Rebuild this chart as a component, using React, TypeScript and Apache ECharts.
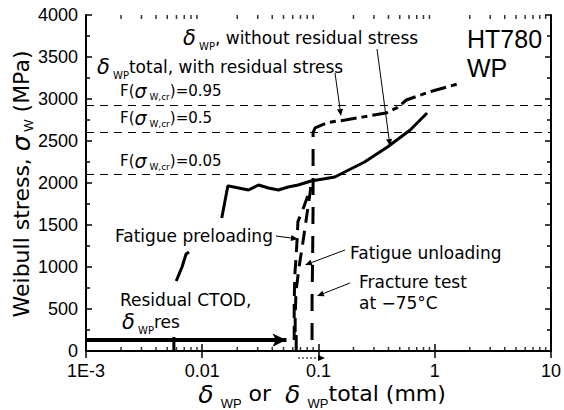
import React, { useEffect, useRef } from "react";
import * as echarts from "echarts";

// ---- Data ----
const xTickLabels = ["1E-3", "0.01", "0.1", "1", "10"];
const decades = [0.001, 0.01, 0.1, 1];
const minorMultipliers = [2, 3, 4, 5, 6, 7, 8, 9];

// delta_WP without residual stress (solid)
const solidLow = [
  [0.00597, 833],
  [0.0067, 1000],
  [0.00726, 1155],
  [0.0077, 1179],
];
const solidMain = [
  [0.01472, 1583],
  [0.0166, 1964],
  [0.0169, 1964],
  [0.025, 1917],
  [0.0305, 1976],
  [0.0371, 1940],
  [0.0452, 1917],
  [0.0549, 1952],
  [0.0668, 1976],
  [0.0863, 2024],
  [0.1383, 2071],
  [0.168, 2131],
  [0.249, 2250],
  [0.392, 2429],
  [0.615, 2631],
  [0.859, 2833],
];
// Fatigue preloading (dashed)
const preload = [
  [0.0618, 130],
  [0.0618, 580],
  [0.0625, 900],
  [0.064, 1100],
  [0.0656, 1345],
  [0.0665, 1540],
  [0.075, 1720],
  [0.086, 1950],
];
// Fatigue unloading (dashed)
const unload = [
  [0.086, 1950],
  [0.08, 1650],
  [0.0723, 1230],
  [0.068, 1000],
  [0.064, 700],
  [0.063, 400],
  [0.063, 130],
];
// Fracture test at -75C (dashed rise)
const fractureRise = [
  [0.088, 130],
  [0.088, 600],
  [0.089, 1100],
  [0.0898, 1700],
  [0.0898, 2600],
];
// delta_WP total with residual stress (dash-dot)
const totalCurve = [
  [0.0898, 2600],
  [0.0934, 2655],
  [0.12, 2720],
  [0.17, 2750],
  [0.25, 2790],
  [0.38, 2833],
  [0.48, 2900],
  [0.57, 2988],
  [0.89, 3083],
  [1.68, 3190],
];
// residual CTOD marks
const residualTickA = [
  [0.0057, 0],
  [0.0057, 167],
];
const residualTickB = [
  [0.0643, 0],
  [0.0643, 190],
];
const residualArrow = { from: 0.001, to: 0.053, stress: 130 };
// Weibull stress levels F(sigma_W,cr)
const fLevels = [2920, 2600, 2100];

const FONT = "DejaVu Sans";
const NUMFONT = "Liberation Sans";

function arrow(x1: number, y1: number, x2: number, y2: number, dotted = false) {
  const ang = Math.atan2(y2 - y1, x2 - x1);
  const L = 7,
    W = 3;
  const bx = x2 - L * Math.cos(ang);
  const by = y2 - L * Math.sin(ang);
  const px = -Math.sin(ang) * W;
  const py = Math.cos(ang) * W;
  return [
    {
      type: "line",
      shape: { x1, y1, x2: bx, y2: by },
      style: { stroke: "#000", lineWidth: 1, lineDash: dotted ? [2, 2] : null },
      silent: true,
    },
    {
      type: "polygon",
      shape: {
        points: [
          [x2, y2],
          [bx + px, by + py],
          [bx - px, by - py],
        ],
      },
      style: { fill: "#000" },
      silent: true,
    },
  ];
}

const richBase = (size: number, drop: number) => ({
  n: { fontFamily: FONT, fontSize: size, lineHeight: 2 * drop + 8, fill: "#000", verticalAlign: "middle" },
  g: {
    fontFamily: FONT,
    fontStyle: "italic",
    fontSize: size + 4,
    lineHeight: 2 * drop + 8,
    fill: "#000",
    verticalAlign: "middle",
  },
  s: { fontFamily: FONT, fontSize: Math.round(size * 0.6), lineHeight: 8, fill: "#000", verticalAlign: "bottom" },
});

function label(x: number, y: number, text: string, size = 17, drop = 9) {
  return {
    type: "text",
    x,
    y,
    silent: true,
    style: {
      text,
      rich: richBase(size, drop),
      font: `${size}px "${FONT}"`,
      fill: "#000",
      align: "left",
      verticalAlign: "middle",
    },
  };
}

export default function App() {
  const ref = useRef<HTMLDivElement>(null);
  useEffect(() => {
    if (!ref.current) return;
    const chart = echarts.init(ref.current, undefined, { renderer: "svg" });

    const minorX: number[][] = [];
    decades.forEach((d) => minorMultipliers.forEach((m) => minorX.push([d * m, 0])));
    const minorXTop = minorX.map((p) => [p[0], 4000]);

    const axisLine = { show: true, lineStyle: { color: "#000", width: 2 } };
    const dashedLine = (data: number[][], dash: number[]) => ({
      type: "line",
      data,
      symbol: "none",
      lineStyle: { color: "#000", width: 3, type: dash },
      silent: true,
      z: 3,
    });

    const yNameRich = {
      n: { fontFamily: FONT, fontSize: 22, lineHeight: 28, fill: "#000", verticalAlign: "middle" },
      g: { fontFamily: FONT, fontStyle: "italic", fontSize: 25, lineHeight: 28, fill: "#000", verticalAlign: "middle" },
      s: { fontFamily: NUMFONT, fontSize: 13, lineHeight: 8, fill: "#000", verticalAlign: "bottom" },
    };
    const xNameRich = {
      n: { fontFamily: FONT, fontSize: 22, lineHeight: 20, fill: "#000", verticalAlign: "top" },
      g: { fontFamily: FONT, fontStyle: "italic", fontSize: 25, lineHeight: 20, fill: "#000", verticalAlign: "top" },
      s: {
        fontFamily: NUMFONT,
        fontSize: 13,
        lineHeight: 10,
        padding: [15, 0, 0, 0],
        fill: "#000",
        verticalAlign: "top",
      },
    };

    const graphic: any[] = [
      // annotations
      label(183, 38, "{g|δ}{s| WP}{n|, without residual stress}"),
      label(97, 67, "{g|δ}{s| WP}{n|total, with residual stress}"),
      {
        type: "text",
        x: 467,
        y: 39,
        silent: true,
        style: { text: "HT780", font: `25px "${NUMFONT}"`, fill: "#000", verticalAlign: "middle" },
      },
      {
        type: "text",
        x: 467,
        y: 68,
        silent: true,
        style: { text: "WP", font: `25px "${NUMFONT}"`, fill: "#000", verticalAlign: "middle" },
      },
      label(120, 91, "{n|F(}{g|σ}{s| W,cr}{n|)=0.95}", 15, 6),
      label(120, 118, "{n|F(}{g|σ}{s| W,cr}{n|)=0.5}", 15, 6),
      label(120, 161, "{n|F(}{g|σ}{s| W,cr}{n|)=0.05}", 15, 6),
      label(115, 236, "{n|Fatigue preloading}"),
      label(350, 253, "{n|Fatigue unloading}"),
      label(359, 282, "{n|Fracture test}"),
      label(359, 303, "{n|at −75°C}"),
      label(120, 300, "{n|Residual CTOD,}"),
      label(122, 322, "{g|δ}{s| WP}{n|res}"),
      ...arrow(335, 73, 341, 116),
      ...arrow(377, 49, 390, 146),
      ...arrow(276, 236, 298, 239),
      ...arrow(345, 250, 305, 265),
      ...arrow(350, 283, 317, 296),
      ...arrow(298, 358, 325, 358, true),
      // axis names
      {
        type: "text",
        x: 21,
        y: 184,
        rotation: Math.PI / 2,
        silent: true,
        style: {
          text: "{n|Weibull stress, }{g|σ}{s| W}{n| (MPa)}",
          rich: yNameRich,
          align: "center",
          verticalAlign: "middle",
        },
      },
      {
        type: "text",
        x: 322,
        y: 382,
        silent: true,
        style: {
          text: "{g|δ}{s|  WP}{n| or  }{g|δ}{s|  WP}{n|total (mm)}",
          rich: xNameRich,
          align: "center",
          verticalAlign: "top",
        },
      },
    ];

    chart.setOption({
      animation: false,
      backgroundColor: "#fff",
      grid: { left: 86, right: 9, top: 15, bottom: 59, containLabel: false },
      xAxis: [
        {
          type: "log",
          logBase: 10,
          min: 0.001,
          max: 10,
          axisLine,
          axisTick: { show: true, inside: true, length: 7, lineStyle: { color: "#000", width: 1.5 } },
          axisLabel: {
            color: "#000",
            fontFamily: NUMFONT,
            fontSize: 18,
            margin: 11,
            formatter: (_v: number, i: number) => xTickLabels[i] ?? "",
          },
          splitLine: { show: false },
        },
        {
          type: "log",
          logBase: 10,
          min: 0.001,
          max: 10,
          position: "top",
          axisLine,
          axisTick: { show: true, inside: true, length: 7, lineStyle: { color: "#000", width: 1.5 } },
          axisLabel: { show: false },
          splitLine: { show: false },
        },
      ],
      yAxis: [
        {
          type: "value",
          min: 0,
          max: 4000,
          interval: 500,
          axisLine,
          axisTick: { show: true, inside: true, length: 6, lineStyle: { color: "#000", width: 1.5 } },
          minorTick: { show: true, splitNumber: 2, length: 4, lineStyle: { color: "#000", width: 1.5 } },
          axisLabel: {
            color: "#000",
            fontFamily: NUMFONT,
            fontSize: 18,
            margin: 8,
            formatter: (v: number) => String(v),
          },
          splitLine: { show: false },
        },
        {
          type: "value",
          min: 0,
          max: 4000,
          interval: 500,
          position: "right",
          axisLine,
          axisTick: { show: true, inside: true, length: 6, lineStyle: { color: "#000", width: 1.5 } },
          minorTick: { show: true, splitNumber: 2, length: 4, lineStyle: { color: "#000", width: 1.5 } },
          axisLabel: { show: false },
          splitLine: { show: false },
        },
      ],
      series: [
        {
          type: "line",
          data: [],
          silent: true,
          markLine: {
            silent: true,
            symbol: "none",
            label: { show: false },
            lineStyle: { color: "#000", width: 1, type: [8, 6] },
            data: fLevels.map((v) => ({ yAxis: v })),
          },
        },
        {
          type: "line",
          data: solidLow,
          symbol: "none",
          lineStyle: { color: "#000", width: 3 },
          silent: true,
        },
        {
          type: "line",
          data: solidMain,
          symbol: "none",
          lineStyle: { color: "#000", width: 3 },
          silent: true,
        },
        dashedLine(preload, [14, 8]),
        dashedLine(unload, [14, 8]),
        dashedLine(fractureRise, [17, 12]),
        dashedLine(totalCurve, [16, 5, 6, 5]),
        {
          type: "line",
          data: residualTickA,
          symbol: "none",
          lineStyle: { color: "#000", width: 3 },
          silent: true,
        },
        {
          type: "line",
          data: residualTickB,
          symbol: "none",
          lineStyle: { color: "#000", width: 3 },
          silent: true,
          markLine: {
            silent: true,
            symbol: ["none", "arrow"],
            symbolSize: [10, 14],
            label: { show: false },
            lineStyle: { color: "#000", width: 4, type: "solid" },
            data: [
              [
                { coord: [residualArrow.from, residualArrow.stress] },
                { coord: [residualArrow.to, residualArrow.stress] },
              ],
            ],
          },
        },
        {
          type: "scatter",
          data: minorX,
          symbol: "rect",
          symbolSize: [1.5, 4],
          symbolOffset: [0, -2],
          itemStyle: { color: "#000" },
          clip: false,
          silent: true,
        },
        {
          type: "scatter",
          data: minorXTop,
          symbol: "rect",
          symbolSize: [1.5, 4],
          symbolOffset: [0, 2],
          itemStyle: { color: "#000" },
          clip: false,
          silent: true,
        },
      ],
      graphic,
    });
    return () => chart.dispose();
  }, []);
  return <div ref={ref} style={{ position: "fixed", left: 0, top: 0, width: 564, height: 410 }} />;
}
